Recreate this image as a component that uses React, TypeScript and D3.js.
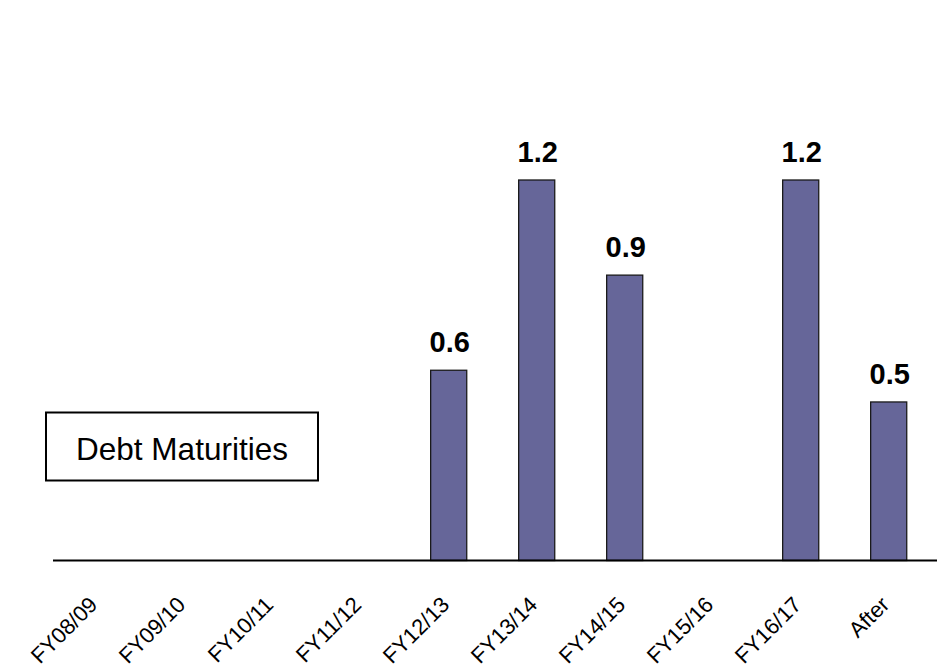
import React from "react";
import * as d3 from "d3";

// Debt maturities by fiscal year (billions)
const categories: string[] = [
  "FY08/09",
  "FY09/10",
  "FY10/11",
  "FY11/12",
  "FY12/13",
  "FY13/14",
  "FY14/15",
  "FY15/16",
  "FY16/17",
  "After",
];
const maturities: (number | null)[] = [null, null, null, null, 0.6, 1.2, 0.9, null, 1.2, 0.5];
const legendLabel = "Debt Maturities";

const WIDTH = 939;
const HEIGHT = 668;
const FONT = "'Liberation Sans', Arial, Helvetica, sans-serif";
const BAR_FILL = "#666699";

export default function App() {
  const x = d3
    .scaleBand<string>()
    .domain(categories)
    .range([52.7, 932.7])
    .paddingInner(0.59)
    .paddingOuter(0.295);

  const y = d3.scaleLinear().domain([0, 1.2]).range([560.5, 180]);
  const baseY = y(0);

  const rows = categories.map((c, i) => ({ cat: c, value: maturities[i] }));

  return (
    <svg
      width={WIDTH}
      height={HEIGHT}
      viewBox={`0 0 ${WIDTH} ${HEIGHT}`}
      style={{ position: "absolute", left: 0, top: 0, background: "#ffffff" }}
      fontFamily={FONT}
    >
      <rect x={0} y={0} width={WIDTH} height={HEIGHT} fill="#ffffff" />

      {/* bars */}
      {rows
        .filter((d) => d.value != null)
        .map((d) => (
          <rect
            key={d.cat}
            x={x(d.cat)!}
            y={y(d.value as number)}
            width={x.bandwidth()}
            height={baseY - y(d.value as number)}
            fill={BAR_FILL}
            stroke="#1a1a1a"
            strokeWidth={1.3}
          />
        ))}

      {/* value labels */}
      {rows
        .filter((d) => d.value != null)
        .map((d) => (
          <text
            key={`lbl-${d.cat}`}
            x={x(d.cat)! + x.bandwidth() / 2 + 1}
            y={y(d.value as number) - 18}
            textAnchor="middle"
            fontSize={29}
            fontWeight="bold"
            fill="#000"
          >
            {(d.value as number).toFixed(1)}
          </text>
        ))}

      {/* category axis */}
      <line x1={53} x2={937} y1={baseY} y2={baseY} stroke="#000" strokeWidth={2} />
      {categories.map((c) => {
        const cx = x(c)! + x.bandwidth() / 2 + 2;
        const cy = 606;
        return (
          <text
            key={`tick-${c}`}
            x={cx}
            y={cy}
            transform={`rotate(-45 ${cx} ${cy})`}
            textAnchor="end"
            fontSize={22}
            fill="#000"
          >
            {c}
          </text>
        );
      })}

      {/* legend box */}
      <rect x={46} y={412.5} width={272} height={68} fill="#fff" stroke="#000" strokeWidth={2} />
      <text x={182} y={459.5} textAnchor="middle" fontSize={31.5} fill="#000">
        {legendLabel}
      </text>
    </svg>
  );
}
